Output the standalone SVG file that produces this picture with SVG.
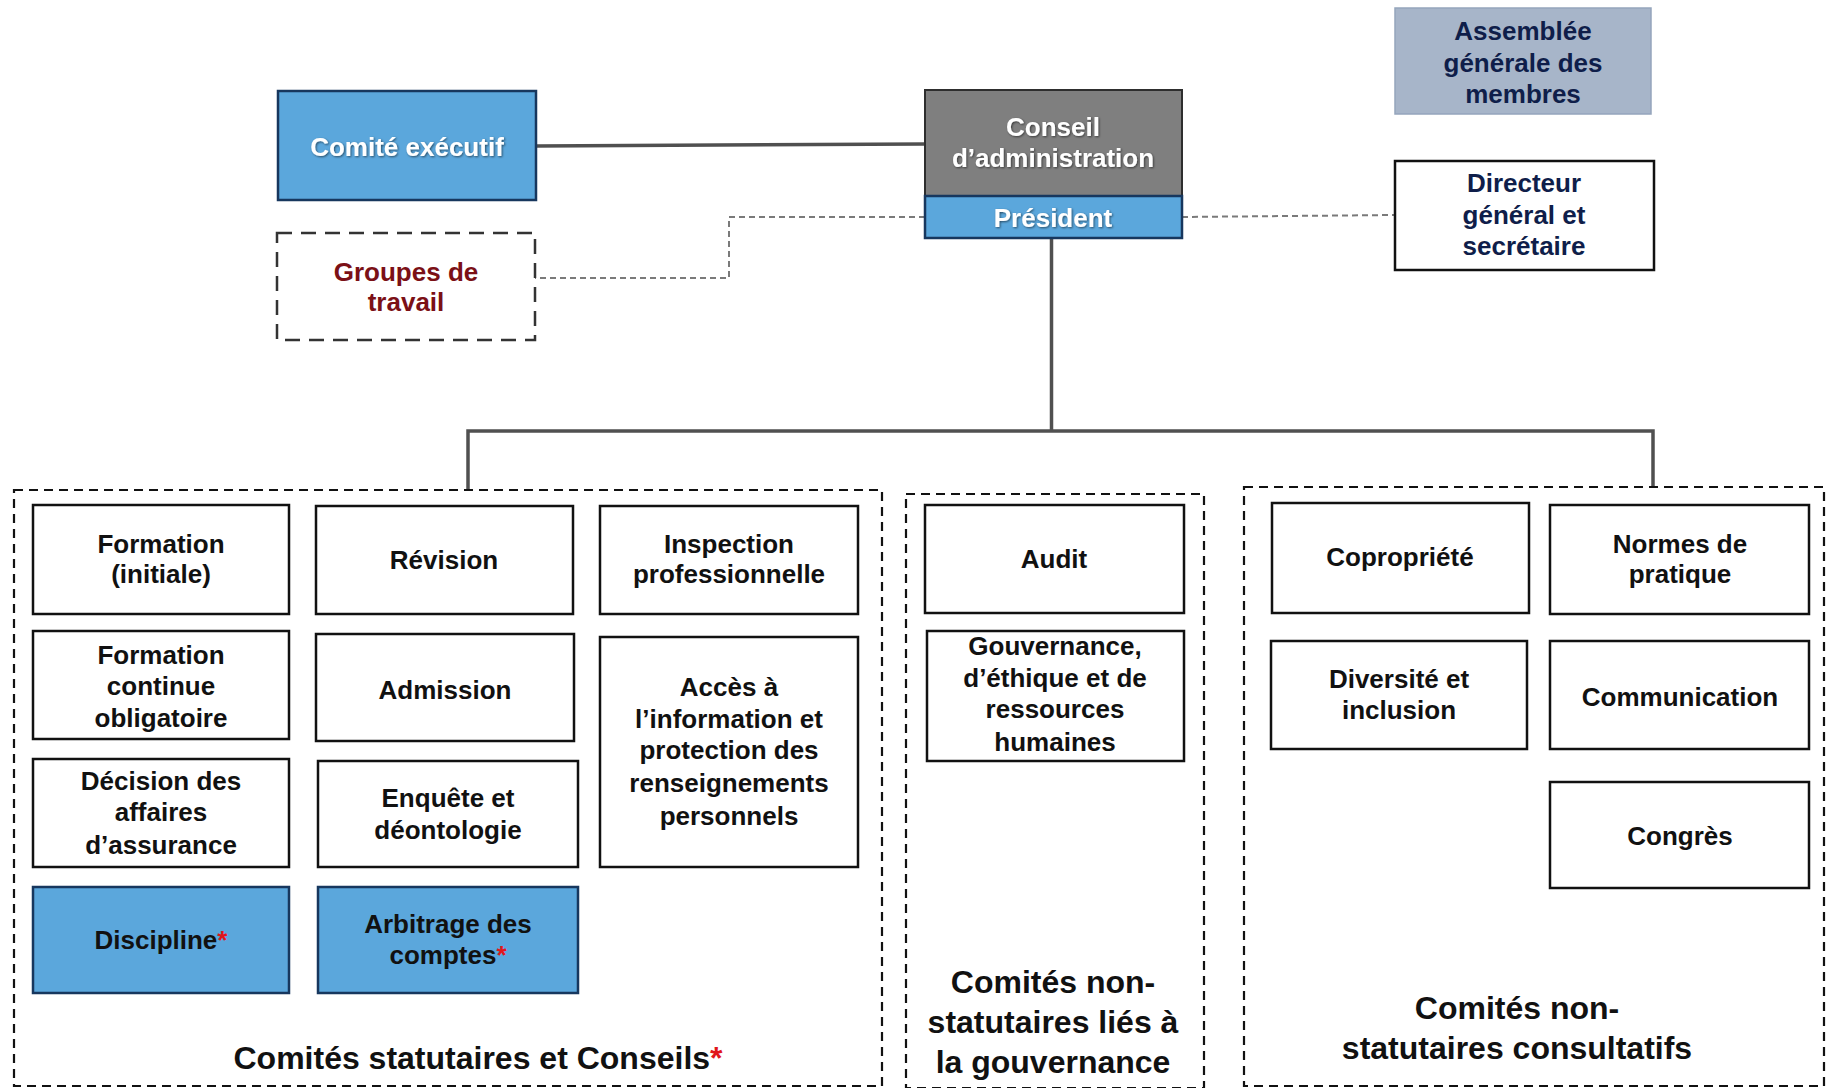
<svg xmlns="http://www.w3.org/2000/svg" width="1830" height="1088" viewBox="0 0 1830 1088">
<style>
text{font-family:"Liberation Sans",Arial,sans-serif;font-weight:bold;text-anchor:middle}
.box{fill:#fff;stroke:#111;stroke-width:2.5}
.blue{fill:#5ba7dc;stroke:#17375e;stroke-width:2.5}
.grp{fill:none;stroke:#111;stroke-width:2.2;stroke-dasharray:9 6}
.t{font-size:26px;fill:#111}
.w{font-size:26px;fill:#fff;filter:url(#sh)}
.n{font-size:26px;fill:#0f1e4a}
.g{font-size:32px;fill:#111}
.star{fill:#e0161b}
.solid{fill:none;stroke:#505050;stroke-width:3.5}
.dash{fill:none;stroke:#7a7a7a;stroke-width:2;stroke-dasharray:6 4}
</style>
<defs>
<filter id="sh" x="-10%" y="-30%" width="120%" height="160%">
<feDropShadow dx="1" dy="1" stdDeviation="0.8" flood-color="#000" flood-opacity="0.55"/>
</filter>
</defs>
<rect width="1830" height="1088" fill="#fff"/>

<g id="connectors">
<path class="solid" d="M536 146 L925 144"/>
<path class="dash" d="M925 217 H729 V278 H535"/>
<path class="dash" d="M1182 217 L1395 215"/>
<path class="solid" d="M1051.5 238 V431"/>
<path class="solid" d="M468 490 V431 H1653 V487"/>
</g>

<g id="groups">
<rect id="grp-statutaires" class="grp" x="14" y="490" width="868" height="596"/>
<rect id="grp-gouvernance" class="grp" x="906" y="494" width="298" height="594"/>
<rect id="grp-consultatifs" class="grp" x="1244" y="487" width="580" height="599"/>
<text class="g" x="478" y="1069">Comités statutaires et Conseils<tspan class="star">*</tspan></text>
<text class="g" x="1053" y="993">Comités non-</text>
<text class="g" x="1053" y="1033">statutaires liés à</text>
<text class="g" x="1053" y="1073">la gouvernance</text>
<text class="g" x="1517" y="1019">Comités non-</text>
<text class="g" x="1517" y="1059">statutaires consultatifs</text>
</g>

<g id="assemblee">
<rect x="1395" y="8" width="256" height="106" fill="#a7b5c9" stroke="#95a5bc" stroke-width="1.5"/>
<text class="n" x="1523" y="40">Assemblée</text>
<text class="n" x="1523" y="72">générale des</text>
<text class="n" x="1523" y="103">membres</text>
</g>

<g id="comite-executif">
<rect class="blue" x="278" y="91" width="258" height="109"/>
<text class="w" x="407" y="156">Comité exécutif</text>
</g>

<g id="conseil">
<rect x="925" y="90" width="257" height="106" fill="#7f7f7f" stroke="#2e2e2e" stroke-width="2"/>
<rect class="blue" x="925" y="196" width="257" height="42"/>
<text class="w" x="1053" y="136">Conseil</text>
<text class="w" x="1053" y="167">d’administration</text>
<text class="w" x="1053" y="227">Président</text>
</g>

<g id="groupes-travail">
<rect x="277" y="233" width="258" height="107" fill="#fff" stroke="#333" stroke-width="2.5" stroke-dasharray="15 9"/>
<text x="406" y="281" font-size="26" fill="#7b1016">Groupes de</text>
<text x="406" y="311" font-size="26" fill="#7b1016">travail</text>
</g>

<g id="directeur">
<rect x="1395" y="161" width="259" height="109" fill="#fff" stroke="#111" stroke-width="2.5"/>
<text class="n" x="1524" y="192">Directeur</text>
<text class="n" x="1524" y="224">général et</text>
<text class="n" x="1524" y="255">secrétaire</text>
</g>

<g id="formation-initiale">
<rect class="box" x="33" y="505" width="256" height="109"/>
<text class="t" x="161" y="553">Formation</text>
<text class="t" x="161" y="583">(initiale)</text>
</g>
<g id="revision">
<rect class="box" x="316" y="506" width="257" height="108"/>
<text class="t" x="444" y="569">Révision</text>
</g>
<g id="inspection">
<rect class="box" x="600" y="506" width="258" height="108"/>
<text class="t" x="729" y="553">Inspection</text>
<text class="t" x="729" y="583">professionnelle</text>
</g>
<g id="formation-continue">
<rect class="box" x="33" y="631" width="256" height="108"/>
<text class="t" x="161" y="664">Formation</text>
<text class="t" x="161" y="695">continue</text>
<text class="t" x="161" y="727">obligatoire</text>
</g>
<g id="admission">
<rect class="box" x="316" y="634" width="258" height="107"/>
<text class="t" x="445" y="699">Admission</text>
</g>
<g id="acces">
<rect class="box" x="600" y="637" width="258" height="230"/>
<text class="t" x="729" y="696">Accès à</text>
<text class="t" x="729" y="728">l’information et</text>
<text class="t" x="729" y="759">protection des</text>
<text class="t" x="729" y="792">renseignements</text>
<text class="t" x="729" y="825">personnels</text>
</g>
<g id="decision">
<rect class="box" x="33" y="759" width="256" height="108"/>
<text class="t" x="161" y="790">Décision des</text>
<text class="t" x="161" y="821">affaires</text>
<text class="t" x="161" y="854">d’assurance</text>
</g>
<g id="enquete">
<rect class="box" x="318" y="761" width="260" height="106"/>
<text class="t" x="448" y="807">Enquête et</text>
<text class="t" x="448" y="839">déontologie</text>
</g>
<g id="discipline">
<rect class="blue" x="33" y="887" width="256" height="106"/>
<text class="t" x="161" y="949">Discipline<tspan class="star">*</tspan></text>
</g>
<g id="arbitrage">
<rect class="blue" x="318" y="887" width="260" height="106"/>
<text class="t" x="448" y="933">Arbitrage des</text>
<text class="t" x="448" y="964">comptes<tspan class="star">*</tspan></text>
</g>

<g id="audit">
<rect class="box" x="925" y="505" width="259" height="108"/>
<text class="t" x="1054" y="568">Audit</text>
</g>
<g id="gouvernance">
<rect class="box" x="927" y="631" width="257" height="130"/>
<text class="t" x="1055" y="655">Gouvernance,</text>
<text class="t" x="1055" y="687">d’éthique et de</text>
<text class="t" x="1055" y="718">ressources</text>
<text class="t" x="1055" y="751">humaines</text>
</g>

<g id="copropriete">
<rect class="box" x="1272" y="503" width="257" height="110"/>
<text class="t" x="1400" y="566">Copropriété</text>
</g>
<g id="normes">
<rect class="box" x="1550" y="505" width="259" height="109"/>
<text class="t" x="1680" y="553">Normes de</text>
<text class="t" x="1680" y="583">pratique</text>
</g>
<g id="diversite">
<rect class="box" x="1271" y="641" width="256" height="108"/>
<text class="t" x="1399" y="688">Diversité et</text>
<text class="t" x="1399" y="719">inclusion</text>
</g>
<g id="communication">
<rect class="box" x="1550" y="641" width="259" height="108"/>
<text class="t" x="1680" y="706">Communication</text>
</g>
<g id="congres">
<rect class="box" x="1550" y="782" width="259" height="106"/>
<text class="t" x="1680" y="845">Congrès</text>
</g>
</svg>
